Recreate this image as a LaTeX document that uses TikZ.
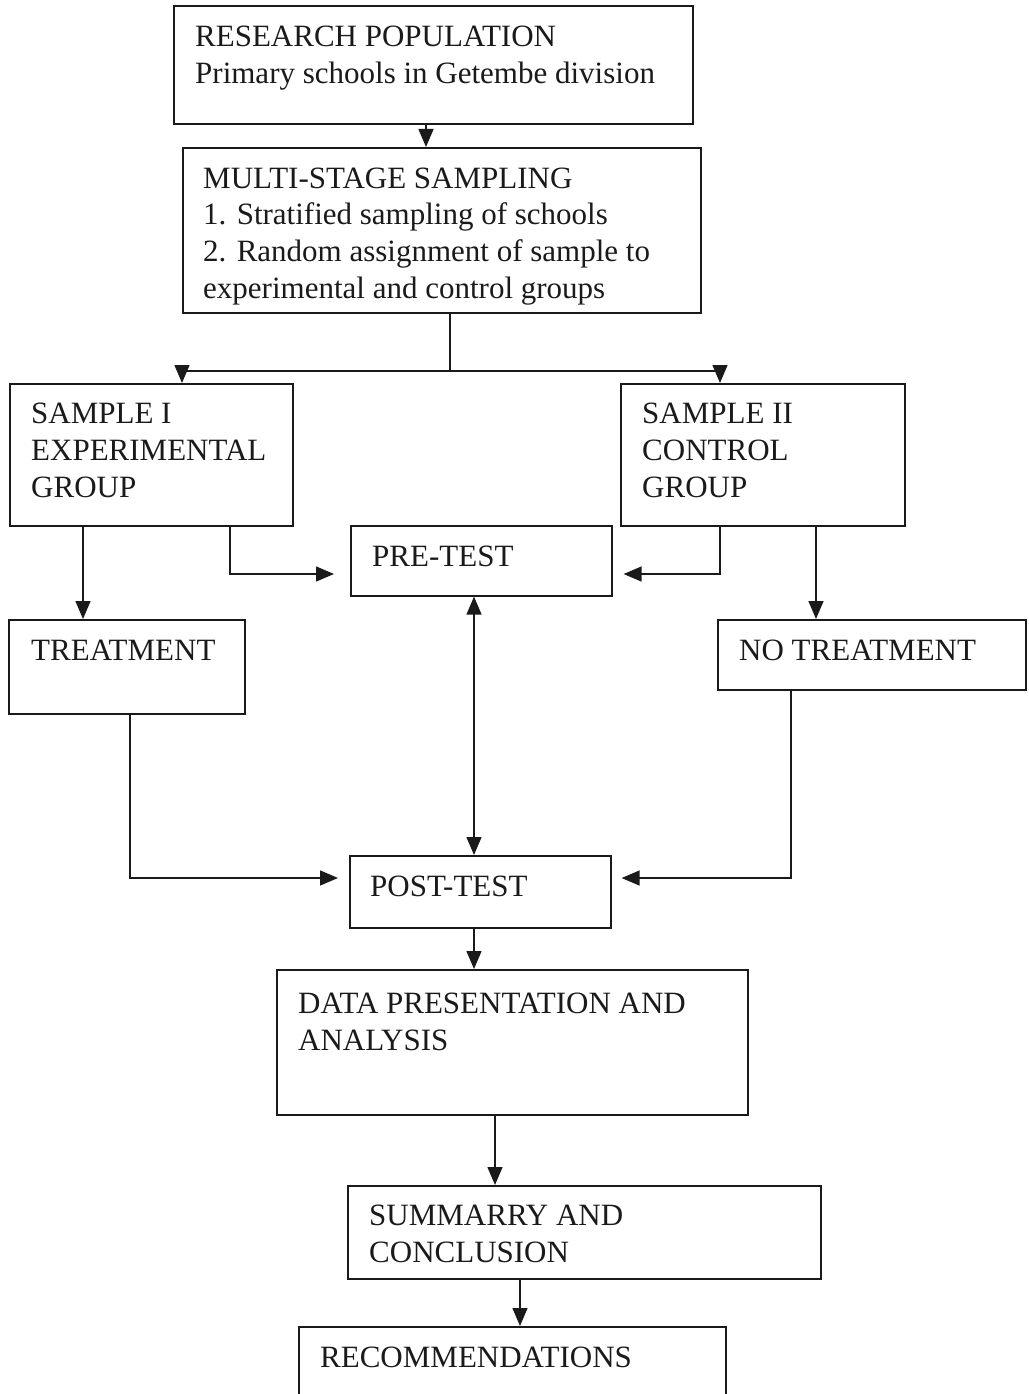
\documentclass[tikz,border=0pt]{standalone}
\usepackage{fontspec}
\setmainfont{Liberation Serif}
\usetikzlibrary{arrows.meta}
\definecolor{ink}{HTML}{1A1A1A}
\begin{document}
\begin{tikzpicture}[x=1pt,y=-1pt,
  box/.style={draw=ink,line width=1.6pt,inner sep=0pt},
  txt/.style={anchor=base west,inner sep=0pt,text=ink,font=\fontsize{31}{37}\selectfont},
  tip/.tip={Triangle[length=18pt,width=15pt]},
  conn/.style={draw=ink,line width=1.4pt,-tip},
  line/.style={draw=ink,line width=1.4pt}]
\useasboundingbox (0,0) rectangle (1028,1394);
\clip (0,0) rectangle (1028,1394);
% boxes
\node[box,minimum width=519pt,minimum height=118pt,anchor=north west] (pop) at (173,5) {};
\node[box,minimum width=518pt,minimum height=165pt,anchor=north west] (msr) at (182,147) {};
\node[box,minimum width=283pt,minimum height=142pt,anchor=north west] (s1) at (9,383) {};
\node[box,minimum width=284pt,minimum height=142pt,anchor=north west] (s2) at (620,383) {};
\node[box,minimum width=261pt,minimum height=70pt,anchor=north west] (pre) at (350,525) {};
\node[box,minimum width=236pt,minimum height=94pt,anchor=north west] (trt) at (8,619) {};
\node[box,minimum width=308pt,minimum height=70pt,anchor=north west] (ntr) at (717,619) {};
\node[box,minimum width=261pt,minimum height=72pt,anchor=north west] (post) at (349,855) {};
\node[box,minimum width=471pt,minimum height=145pt,anchor=north west] (data) at (276,969) {};
\node[box,minimum width=473pt,minimum height=93pt,anchor=north west] (sum) at (347,1185) {};
\node[box,minimum width=427pt,minimum height=90pt,anchor=north west] (rec) at (298,1326) {};
% texts
\node[txt] (t1) at (195,47) {RESEARCH POPULATION};
\node[txt] (t2) at (195,84) {Primary schools in Getembe division};
\node[txt] (t3) at (203,188) {MULTI-STAGE SAMPLING};
\node[txt] (t4) at (203,224) {1. Stratified sampling of schools};
\node[txt] (t5) at (203,261) {2. Random assignment of sample to};
\node[txt] (t6) at (203,298) {experimental and control groups};
\node[txt] (t7) at (31,423) {SAMPLE I};
\node[txt] (t8) at (31,460) {EXPERIMENTAL};
\node[txt] (t9) at (31,497) {GROUP};
\node[txt] (t10) at (642,423) {SAMPLE II};
\node[txt] (t11) at (642,460) {CONTROL};
\node[txt] (t12) at (642,497) {GROUP};
\node[txt] (t13) at (372,566) {PRE-TEST};
\node[txt] (t14) at (31,660) {TREATMENT};
\node[txt] (t15) at (739,660) {NO TREATMENT};
\node[txt] (t16) at (370,896) {POST-TEST};
\node[txt] (t17) at (298,1013) {DATA PRESENTATION AND};
\node[txt] (t18) at (298,1050) {ANALYSIS};
\node[txt] (t19) at (369,1225) {SUMMARRY AND};
\node[txt] (t20) at (369,1262) {CONCLUSION};
\node[txt] (t21) at (320,1367) {RECOMMENDATIONS};
% connectors
\coordinate (split) at (450,371);
\draw[conn] (pop.south -| 426,0) -- (msr.north -| 426,0);
\draw[line] (msr.south -| split) -- (split);
\draw[conn] (split) -| (s1.north -| 182,0);
\draw[conn] (split) -| (s2.north -| 720,0);
\draw[conn] (s1.south -| 83,0) -- (trt.north -| 83,0);
\draw[conn,shorten >=16pt] (s1.south -| 230,0) |- (pre.west |- 0,574);
\draw[conn,shorten >=11pt] (s2.south -| 720,0) |- (pre.east |- 0,574);
\draw[conn] (s2.south -| 816,0) -- (ntr.north -| 816,0);
\draw[line,tip-tip] (pre.south -| 474,0) -- (post.north -| 474,0);
\draw[conn,shorten >=11pt] (trt.south -| 130,0) |- (post.west |- 0,878);
\draw[conn,shorten >=10pt] (ntr.south -| 791,0) |- (post.east |- 0,878);
\draw[conn] (post.south -| 474,0) -- (data.north -| 474,0);
\draw[conn] (data.south -| 495,0) -- (sum.north -| 495,0);
\draw[conn] (sum.south -| 520,0) -- (rec.north -| 520,0);
\end{tikzpicture}
\end{document}
